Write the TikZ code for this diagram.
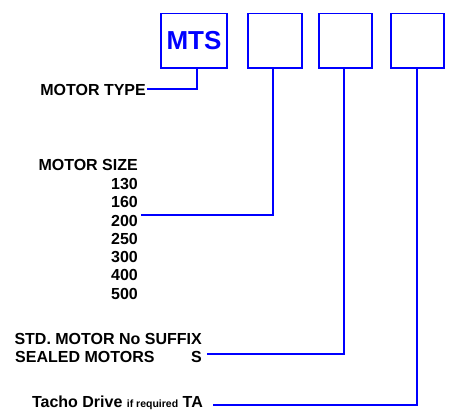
\documentclass[tikz,border=0pt]{standalone}
\usepackage{fontspec}
\setmainfont{Liberation Sans}
\begin{document}
\begin{tikzpicture}[x=1pt, y=-1pt,
  codebox/.style={draw=blue, line width=1.8pt, minimum height=54.7pt, inner sep=0pt},
  lbl/.style={font=\fontsize{16}{19}\selectfont\bfseries, text=black, inner sep=0pt},
  link/.style={draw=blue, line width=1.8pt}]
  \useasboundingbox (0,0) rectangle (451,410);

  % Code boxes
  \node[codebox, minimum width=66.2pt, text=blue, font=\fontsize{26}{30}\selectfont\bfseries] (mts) at (194, 40.75) {MTS};
  \node[codebox, minimum width=54.2pt] (size) at (275, 40.75) {};
  \node[codebox, minimum width=53.2pt] (seal) at (345.5, 40.75) {};
  \node[codebox, minimum width=53.2pt] (tacho) at (417.5, 40.75) {};

  % Motor type
  \node[lbl, anchor=base east] (typelbl) at (146, 95) {MOTOR TYPE};
  \draw[link] ([xshift=1pt, yshift=6pt]typelbl.base east) -| ([xshift=3pt]mts.south);

  % Motor sizes
  \node[lbl, anchor=base east] (sizelbl) at (138, 170) {MOTOR SIZE};
  \foreach \n [count=\i from 0] in {130,160,200,250,300,400,500}
    \node[lbl, anchor=base east] (m\n) at (138, {189.5+18.25*\i}) {\n};
  \draw[link] ([xshift=3pt, yshift=11pt]m200.base east) -| ([xshift=-2pt]size.south);

  % Suffix
  \node[lbl, anchor=base east] (stdlbl) at (202, 344) {STD. MOTOR No SUFFIX};
  \node[lbl, anchor=base west] (sealedlbl) at (15, 362.7) {SEALED MOTORS};
  \node[lbl, anchor=base east] (sfx) at (202, 362.7) {S};
  \draw[link] ([xshift=5pt, yshift=8.7pt]sfx.base east) -| ([xshift=-1.5pt]seal.south);

  % Tacho drive
  \node[lbl, anchor=base east] (tachlbl) at (203, 407.3) {Tacho Drive {\fontsize{10.5}{12}\selectfont if required} TA};
  \draw[link] ([xshift=10pt, yshift=2.3pt]tachlbl.base east) -| ([xshift=-0.5pt]tacho.south);
\end{tikzpicture}
\end{document}
